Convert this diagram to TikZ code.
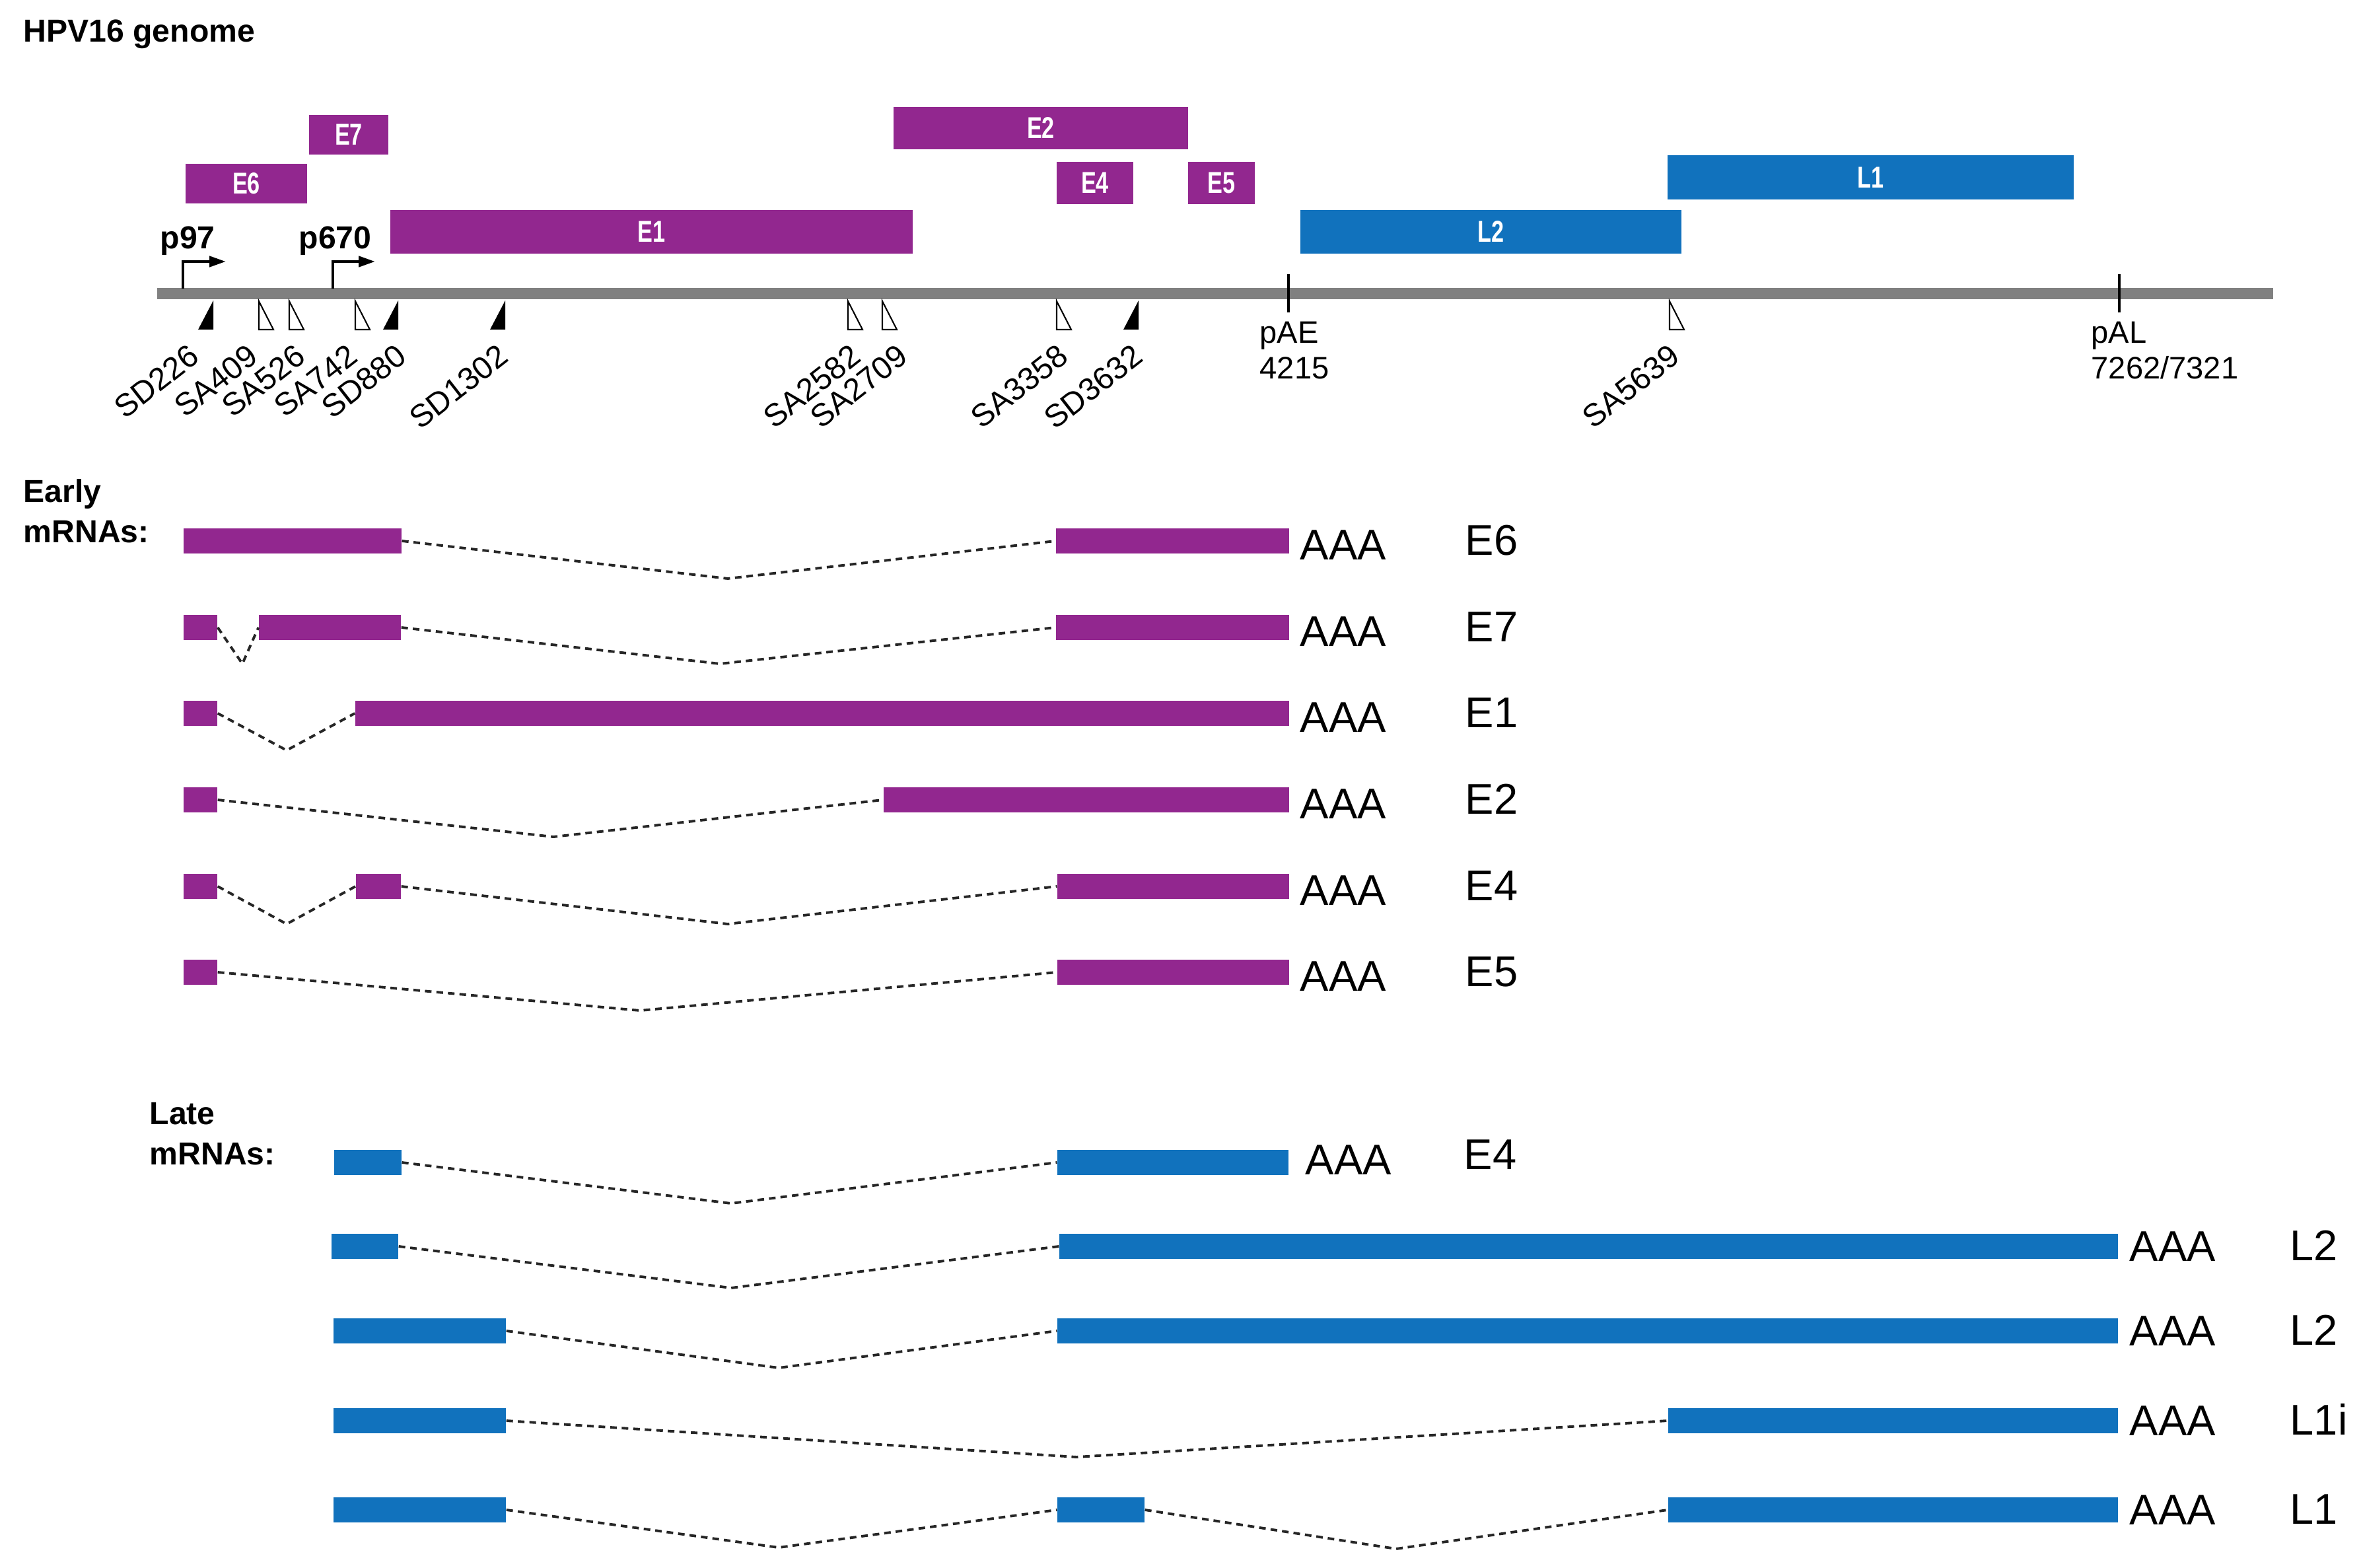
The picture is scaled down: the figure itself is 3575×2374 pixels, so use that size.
\documentclass[tikz,border=0pt]{standalone}
\usepackage{fontspec}
\setmainfont{Liberation Sans}
\newfontfamily\condf[FakeStretch=0.75]{Liberation Sans}
\usetikzlibrary{arrows.meta}
\definecolor{hpvpurple}{RGB}{146,39,143}
\definecolor{hpvblue}{RGB}{17,114,189}
\definecolor{genomegray}{RGB}{128,128,128}
\newcommand{\gbox}[7]{\node[gbox,fill=#6,minimum width={(#3-#2)*0.1mm},minimum height={(#5-#4)*0.1mm}] (#1) at ({(#2+#3)/2},{(#4+#5)/2}) {#7};}
\newcommand{\exon}[5]{\node[exon,fill=#5,minimum width={(#3-#2)*0.1mm}] (#1) at ({(#2+#3)/2},#4) {};}
\newcommand{\sdmark}[1]{\fill[black] (#1,455) -- (#1,499) -- ({#1-23},499) -- cycle;}
\newcommand{\samark}[1]{\filldraw[fill=white,draw=black,line width=0.6pt] (#1,456) -- (#1,499) -- ({#1+22},499) -- cycle;}
\begin{document}
\begin{tikzpicture}[x=0.1mm,y=-0.1mm,
  gbox/.style={draw=none,inner sep=0,text=white,font=\condf\bfseries\fontsize{13}{13}\selectfont},
  exon/.style={draw=none,inner sep=0,minimum height=3.8mm},
  head/.style={inner sep=0,font=\bfseries\fontsize{13.7}{17.4}\selectfont},
  regtxt/.style={inner sep=0,font=\fontsize{13.4}{15.4}\selectfont},
  site/.style={inner sep=0,rotate=38,anchor=south east,font=\fontsize{13.6}{15.4}\selectfont},
  polya/.style={inner sep=0,anchor=base west,font=\fontsize{18.5}{22}\selectfont},
  intron/.style={draw=black!85,line width=1.1pt,dash pattern=on 1.0mm off 0.75mm},
  prom/.style={draw=black,line width=1.3pt,-{Triangle[length=2.5mm,width=1.6mm]}},
  tick/.style={draw=black,line width=0.9pt}]
\useasboundingbox (0,0) rectangle (3575,2374);

% title
\node[head,anchor=base west] (title) at (35,64) {HPV16 genome};

% ORFs
\gbox{oE7}{468}{588}{174}{234}{hpvpurple}{E7}
\gbox{oE6}{281}{465}{248}{308}{hpvpurple}{E6}
\gbox{oE1}{591}{1382}{318}{384}{hpvpurple}{E1}
\gbox{oE2}{1353}{1799}{162}{226}{hpvpurple}{E2}
\gbox{oE4}{1600}{1716}{245}{309}{hpvpurple}{E4}
\gbox{oE5}{1799}{1900}{245}{309}{hpvpurple}{E5}
\gbox{oL2}{1969}{2546}{318}{384}{hpvblue}{L2}
\gbox{oL1}{2525}{3140}{235}{302}{hpvblue}{L1}

% genome
\node[fill=genomegray,inner sep=0,minimum width=320.4mm,minimum height=1.7mm] (genome) at (1840,444.5) {};

% promoters
\coordinate (p97s) at (277,437); \coordinate (p97e) at (342,396);
\draw[prom] (p97s) |- (p97e);
\node[head,anchor=base west] (p97) at (242,377) {p97};
\coordinate (p670s) at (504,437); \coordinate (p670e) at (568,396);
\draw[prom] (p670s) |- (p670e);
\node[head,anchor=base west] (p670) at (452,377) {p670};

% polyA sites
\draw[tick] (1951,415) -- (1951,473);
\draw[tick] (3209,415) -- (3209,473);
\node[regtxt,anchor=north west,align=left] (pAE) at (1907,486) {pAE\\4215};
\node[regtxt,anchor=north west,align=left] (pAL) at (3166,486) {pAL\\7262/7321};

% splice sites
\sdmark{323}\sdmark{603}\sdmark{765}\sdmark{1724}
\samark{392}\samark{438}\samark{538}\samark{1284}\samark{1336}\samark{1600}\samark{2528}
\node[site] (sSD226) at (306,546) {SD226};
\node[site] (sSA409) at (395,546) {SA409};
\node[site] (sSA526) at (467,546) {SA526};
\node[site] (sSA742) at (546,546) {SA742};
\node[site] (sSD880) at (620,546) {SD880};
\node[site] (sSD1302) at (774,546) {SD1302};
\node[site] (sSA2582) at (1308,546) {SA2582};
\node[site] (sSA2709) at (1379,546) {SA2709};
\node[site] (sSA3358) at (1622,546) {SA3358};
\node[site] (sSD3632) at (1735,546) {SD3632};
\node[site] (sSA5639) at (2548,546) {SA5639};

% Early mRNAs
\node[head,anchor=north west,align=left] (early) at (35,725) {Early\\mRNAs:};

% E6
\exon{e6a}{278}{608}{819}{hpvpurple}
\exon{e6b}{1599}{1952}{819}{hpvpurple}
\coordinate (e6d) at (1102,876);
\draw[intron] (e6a.east) -- (e6d) -- (e6b.west);
\node[polya] (e6p) at (1968,847) {AAA};
\node[polya] (e6l) at (2218,840) {E6};
% E7
\exon{e7a}{278}{329}{950}{hpvpurple}
\exon{e7b}{392}{607}{950}{hpvpurple}
\exon{e7c}{1599}{1952}{950}{hpvpurple}
\coordinate (e7d1) at (367,1005); \coordinate (e7d2) at (1090,1005);
\draw[intron] (e7a.east) -- (e7d1) -- (e7b.west);
\draw[intron] (e7b.east) -- (e7d2) -- (e7c.west);
\node[polya] (e7p) at (1968,978) {AAA};
\node[polya] (e7l) at (2218,971) {E7};
% E1
\exon{e1a}{278}{329}{1080}{hpvpurple}
\exon{e1b}{538}{1952}{1080}{hpvpurple}
\coordinate (e1d) at (434,1136);
\draw[intron] (e1a.east) -- (e1d) -- (e1b.west);
\node[polya] (e1p) at (1968,1108) {AAA};
\node[polya] (e1l) at (2218,1101) {E1};
% E2
\exon{e2a}{278}{329}{1211}{hpvpurple}
\exon{e2b}{1338}{1952}{1211}{hpvpurple}
\coordinate (e2d) at (838,1267);
\draw[intron] (e2a.east) -- (e2d) -- (e2b.west);
\node[polya] (e2p) at (1968,1239) {AAA};
\node[polya] (e2l) at (2218,1232) {E2};
% E4
\exon{e4a}{278}{329}{1342}{hpvpurple}
\exon{e4b}{539}{607}{1342}{hpvpurple}
\exon{e4c}{1601}{1952}{1342}{hpvpurple}
\coordinate (e4d1) at (434,1399); \coordinate (e4d2) at (1102,1399);
\draw[intron] (e4a.east) -- (e4d1) -- (e4b.west);
\draw[intron] (e4b.east) -- (e4d2) -- (e4c.west);
\node[polya] (e4p) at (1968,1370) {AAA};
\node[polya] (e4l) at (2218,1363) {E4};
% E5
\exon{e5a}{278}{329}{1472}{hpvpurple}
\exon{e5b}{1601}{1952}{1472}{hpvpurple}
\coordinate (e5d) at (969,1530);
\draw[intron] (e5a.east) -- (e5d) -- (e5b.west);
\node[polya] (e5p) at (1968,1500) {AAA};
\node[polya] (e5l) at (2218,1493) {E5};

% Late mRNAs
\node[head,anchor=north west,align=left] (late) at (226,1669) {Late\\mRNAs:};

% late E4
\exon{la}{506}{608}{1760}{hpvblue}
\exon{lb}{1601}{1951}{1760}{hpvblue}
\coordinate (ld) at (1107,1822);
\draw[intron] (la.east) -- (ld) -- (lb.west);
\node[polya] (lp) at (1976,1778) {AAA};
\node[polya] (ll) at (2216,1770) {E4};
% L2 (a)
\exon{ma}{502}{603}{1887}{hpvblue}
\exon{mb}{1604}{3207}{1887}{hpvblue}
\coordinate (md) at (1107,1950);
\draw[intron] (ma.east) -- (md) -- (mb.west);
\node[polya] (mp) at (3224,1909) {AAA};
\node[polya] (ml) at (3467,1908) {L2};
% L2 (b)
\exon{na}{505}{766}{2015}{hpvblue}
\exon{nb}{1601}{3207}{2015}{hpvblue}
\coordinate (nd) at (1179,2071);
\draw[intron] (na.east) -- (nd) -- (nb.west);
\node[polya] (np) at (3224,2037) {AAA};
\node[polya] (nl) at (3467,2036) {L2};
% L1i
\exon{oa}{505}{766}{2151}{hpvblue}
\exon{ob}{2526}{3207}{2151}{hpvblue}
\coordinate (od) at (1630,2206);
\draw[intron] (oa.east) -- (od) -- (ob.west);
\node[polya] (op) at (3224,2173) {AAA};
\node[polya] (ol) at (3467,2172) {L1i};
% L1
\exon{qa}{505}{766}{2286}{hpvblue}
\exon{qb}{1601}{1733}{2286}{hpvblue}
\exon{qc}{2526}{3207}{2286}{hpvblue}
\coordinate (qd1) at (1179,2343); \coordinate (qd2) at (2114,2345);
\draw[intron] (qa.east) -- (qd1) -- (qb.west);
\draw[intron] (qb.east) -- (qd2) -- (qc.west);
\node[polya] (qp) at (3224,2308) {AAA};
\node[polya] (ql) at (3467,2307) {L1};
\end{tikzpicture}
\end{document}
